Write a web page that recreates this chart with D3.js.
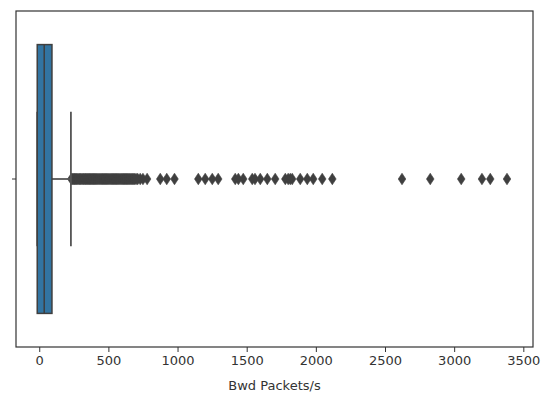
<!DOCTYPE html>
<html><head><meta charset="utf-8">
<script src="https://cdn.jsdelivr.net/npm/d3@7"></script>
<style>body{margin:0;background:#fff;} svg{display:block;}</style>
</head><body>
<script>
// Box statistics
const boxStats = {q1: 0, median: 36, q3: 92, whiskerLow: 0, whiskerHigh: 229};
const xTicks = [0, 500, 1000, 1500, 2000, 2500, 3000, 3500];
const xLabel = "Bwd Packets/s";
const category = [""];
// Outlier values
const fliers = [232, 238, 245, 252, 258, 265, 272, 280, 288, 295, 302, 310, 318, 325, 333, 340, 348, 356, 363, 370, 378, 386, 393, 400, 408, 416, 424, 432, 440, 448, 456, 464, 472, 480, 488, 496, 504, 512, 520, 528, 536, 544, 552, 560, 568, 576, 584, 592, 600, 608, 616, 624, 632, 640, 648, 656, 664, 672, 680, 690, 700, 712, 730, 750, 780,
  875, 922, 978,
  1150, 1200, 1251, 1294, 1417, 1440, 1475, 1540, 1560, 1598, 1649, 1706, 1779, 1800, 1815, 1829, 1887, 1938, 1981, 2046, 2119,
  2623, 2827, 3051, 3201, 3261, 3382];

const W = 550, H = 401;
const m = {left: 16, right: 17, top: 11, bottom: 54};
const svg = d3.select("body").append("svg").attr("width", W).attr("height", H);

const x = d3.scaleLinear().domain([-168, 3570]).range([m.left, W - m.right]);
const y = d3.scaleBand().domain(category).range([m.top, H - m.bottom]).paddingInner(0).paddingOuter(0);

const gray = "#3f3f3f";
const cy = y("") + y.bandwidth() / 2;
const boxH = y.bandwidth() * 0.8;
const capH = boxH / 2;

// fliers
const diamond = {draw(ctx, size) { const hw = 3.8, hh = 5.8; ctx.moveTo(0, -hh); ctx.lineTo(hw, 0); ctx.lineTo(0, hh); ctx.lineTo(-hw, 0); ctx.closePath(); }};
svg.append("g").selectAll("path").data(fliers).join("path")
  .attr("d", d3.symbol().type(diamond))
  .attr("transform", d => `translate(${x(d)},${cy})`)
  .attr("fill", gray).attr("stroke", gray).attr("stroke-width", 0.6);

// whiskers
const g = svg.append("g").attr("stroke", "#555").attr("stroke-width", 1.8).attr("fill", "none");
g.append("line").attr("x1", x(boxStats.q3)).attr("x2", x(boxStats.whiskerHigh)).attr("y1", cy).attr("y2", cy);
g.append("line").attr("x1", x(boxStats.whiskerLow)).attr("x2", x(boxStats.q1)).attr("y1", cy).attr("y2", cy);
g.append("line").attr("x1", x(boxStats.whiskerHigh)).attr("x2", x(boxStats.whiskerHigh)).attr("y1", cy - capH/2).attr("y2", cy + capH/2);
// box
svg.append("rect").attr("x", x(boxStats.q1) - 2).attr("width", x(boxStats.q3) - x(boxStats.q1) + 2)
  .attr("y", cy - boxH/2).attr("height", boxH)
  .attr("fill", "#3274a1").attr("stroke", gray).attr("stroke-width", 1.5);
g.append("line").attr("x1", x(boxStats.whiskerLow) - 2).attr("x2", x(boxStats.whiskerLow) - 2).attr("y1", cy - capH/2).attr("y2", cy + capH/2);
svg.append("line").attr("x1", x(boxStats.median)).attr("x2", x(boxStats.median)).attr("y1", cy - boxH/2).attr("y2", cy + boxH/2)
  .attr("stroke", gray).attr("stroke-width", 1.5);

// frame
svg.append("rect").attr("x", m.left).attr("y", m.top).attr("width", W - m.left - m.right).attr("height", H - m.top - m.bottom)
  .attr("fill", "none").attr("stroke", "#333").attr("stroke-width", 1.2);

// x axis
const xa = svg.append("g").attr("transform", `translate(0,${H - m.bottom})`)
  .call(d3.axisBottom(x).tickValues(xTicks).tickSize(5).tickPadding(4).tickFormat(d3.format("d")));
xa.select(".domain").remove();
xa.selectAll("line").attr("stroke", "#333").attr("stroke-width", 1);
xa.selectAll("text").attr("font-family", "DejaVu Sans").attr("font-size", 13).attr("fill", "#333");

// y axis (single unlabeled tick)
const ya = svg.append("g").attr("transform", `translate(${m.left},0)`)
  .call(d3.axisLeft(y).tickSize(4).tickFormat(() => ""));
ya.select(".domain").remove();
ya.selectAll("line").attr("stroke", "#333").attr("stroke-width", 1);

svg.append("text").attr("x", (m.left + W - m.right) / 2).attr("y", 390)
  .attr("text-anchor", "middle").attr("font-family", "DejaVu Sans").attr("font-size", 13).attr("fill", "#333")
  .text(xLabel);
</script>
</body></html>
